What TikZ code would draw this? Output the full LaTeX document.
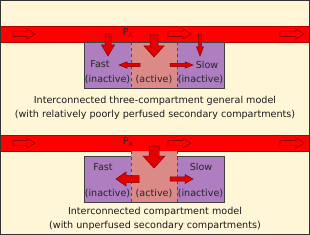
\documentclass[tikz,border=0pt]{standalone}
\usepackage{fontspec}
\setmainfont{DejaVu Sans}
\begin{document}
\begin{tikzpicture}[x=1pt,y=-1pt,
  bandarr/.style={fill=red,draw=red!55!black,line width=0.6pt,line join=miter},
  arr/.style={fill=red!90!black,draw=red!50!black,line width=0.5pt,line join=miter},
  side/.style={fill=sidecol},
  mid/.style={fill=midcol},
  lbl/.style={font=\fontsize{9.6}{11}\selectfont,text=black!85,inner sep=0pt},
  captext/.style={font=\fontsize{9.6}{11}\selectfont,text=black!90,inner sep=0pt}]
\definecolor{bg}{HTML}{FFF6D8}
\definecolor{sidecol}{HTML}{AE7EC0}
\definecolor{midcol}{HTML}{DC8A88}
\newcommand{\darr}[6]{\filldraw[arr] (#1-#4,#2) -- (#1-#4,#3-#6) -- (#1-#5,#3-#6) -- (#1,#3) -- (#1+#5,#3-#6) -- (#1+#4,#3-#6) -- (#1+#4,#2) -- cycle;}
\newcommand{\harr}[7][arr]{\filldraw[#1] (#3,#2-#5) -- ({#4-#7*sign(#4-#3)},#2-#5) -- ({#4-#7*sign(#4-#3)},#2-#6) -- (#4,#2) -- ({#4-#7*sign(#4-#3)},#2+#6) -- ({#4-#7*sign(#4-#3)},#2+#5) -- (#3,#2+#5) -- cycle;}
\useasboundingbox (0,0) rectangle (310,235);
\fill[bg] (0,0) rectangle (310,235);
% ---------- top model ----------
\fill[side] (84,42) rectangle (131,88);
\fill[side] (177,42) rectangle (224,88);
\fill[mid] (131,42) rectangle (177,88);
\draw[black!75,line width=0.8pt] (84,42) rectangle (224,88);
\draw[black!70,dashed,line width=0.5pt] (131,42) -- (131,88) (177,42) -- (177,88);
\fill[red] (0,26) rectangle (310,42);
\draw[red!70!black,line width=0.4pt] (0,26) -- (310,26) (0,42) -- (84,42) (224,42) -- (310,42);
\harr[bandarr]{34}{13}{35}{2.5}{5}{8}
\harr[bandarr]{34}{168}{191}{2.5}{5}{8}
\harr[bandarr]{34}{280}{304}{2.5}{5}{8}
\node[lbl] (pa1) at (128,33) {P\textsubscript{\fontsize{6}{6}\selectfont A}};
\darr{108}{34}{56}{3}{6.5}{11}
\darr{154}{35}{57}{4}{10}{11}
\darr{200}{34}{56}{1.5}{3.5}{9}
\harr{65}{140}{119}{1.6}{3.2}{8}
\harr{65}{170}{193}{1.6}{3.2}{8}
\node[lbl] (fast1) at (100,64) {Fast};
\node[lbl] (slow1) at (207,65) {Slow};
\node[lbl] (fi1) at (107.5,79) {(inactive)};
\node[lbl] (ac1) at (154,79) {(active)};
\node[lbl] (si1) at (200.5,79) {(inactive)};
\node[captext] (c1a) at (155,101) {Interconnected three-compartment general model};
\node[captext] (c1b) at (155,114.5) {(with relatively poorly perfused secondary compartments)};
% ---------- bottom model ----------
\fill[side] (84,156) rectangle (131,202);
\fill[side] (177,156) rectangle (224,202);
\fill[mid] (131,151) rectangle (177,202);
\draw[black!75,line width=0.8pt] (131,156) -- (84,156) -- (84,202) -- (224,202) -- (224,156) -- (177,156);
\draw[black!70,dashed,line width=0.5pt] (131,151) -- (131,202) (177,151) -- (177,202);
\fill[red] (0,135) rectangle (310,151);
\draw[red!70!black,line width=0.4pt] (0,135) -- (310,135) (0,151) -- (131,151) (177,151) -- (310,151);
\harr[bandarr]{143}{13}{35}{2.5}{5}{8}
\harr[bandarr]{143}{168}{191}{2.5}{5}{8}
\harr[bandarr]{143}{280}{304}{2.5}{5}{8}
\node[lbl] (pa2) at (128,142) {P\textsubscript{\fontsize{6}{6}\selectfont A}};
\darr{154}{146}{168}{5}{11}{12}
\harr{179}{139}{116}{3.5}{7}{10}
\harr{179}{170}{193}{2.2}{4.5}{8}
\node[lbl] (fast2) at (103,167) {Fast};
\node[lbl] (slow2) at (201,167) {Slow};
\node[lbl] (fi2) at (107.5,193) {(inactive)};
\node[lbl] (ac2) at (154,193) {(active)};
\node[lbl] (si2) at (200.5,193) {(inactive)};
\node[captext] (c2a) at (155,212) {Interconnected compartment model};
\node[captext] (c2b) at (155,226) {(with unperfused secondary compartments)};
% frame
\draw[black!80,line width=1pt] (0.5,0.5) rectangle (309.5,234.5);
\end{tikzpicture}
\end{document}
